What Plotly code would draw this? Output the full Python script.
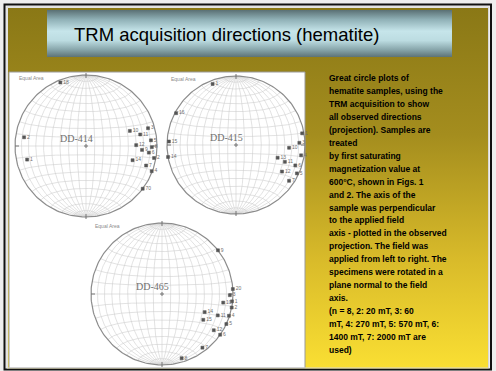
import numpy as np
import plotly.graph_objects as go

W, H = 496, 371

TITLE = "TRM acquisition directions (hematite)"

# Site names shown in each stereonet
SITES = ["DD-414", "DD-415", "DD-465"]

# TRM acquisition directions (declination, inclination in degrees, lower hemisphere)
dec_414 = [338, 71, 74, 85, 89, 94, 96, 100, 107, 108, 111, 127, 278, 257, 78, 91]
inc_414 = [4, 35, 10, 9, 30, 22, 12, 3, 32, 12, 1, 0, 13, 16, 23, 8]
lab_414 = ["18", "10", "3", "5", "12", "9", "6", "2", "14", "7", "4", "70", "2", "1", "11", "8"]

dec_415 = [339, 298, 273, 80, 88, 93, 99, 107, 109, 109, 120, 115, 124, 260]
inc_415 = [6, 2, 3, 3, 9, 24, 5, 37, 26, 10, 24, 3, 8, 0]
lab_415 = ["1", "16", "15", "1", "3", "10", "4", "13", "11", "6", "12", "5", "7", "14"]

dec_465 = [52, 86, 91, 96, 98, 101, 113, 111, 108, 122, 115, 125, 125, 143, 163]
inc_465 = [0, 0, 5, 1, 14, 0, 35, 17, 1, 32, 0, 12, 0, 6, 6]
lab_465 = ["9", "20", "3", "1", "10", "2", "14", "11", "4", "15", "5", "12", "6", "7", "8"]

# Explanatory text beside the nets
BODY = [
    "Great circle plots of",
    "hematite samples, using the",
    "TRM acquisition to show",
    "all observed directions",
    "(projection). Samples are",
    "treated",
    "by first saturating",
    "magnetization value at",
    "600°C, shown in Figs. 1",
    "and 2. The axis of the",
    "sample was perpendicular",
    "to the applied field",
    "axis - plotted in the observed",
    "projection. The field was",
    "applied from left to right. The",
    "specimens were rotated in a",
    "plane normal to the field",
    "axis.",
    "(n = 8, 2: 20 mT, 3: 60",
    "mT, 4: 270 mT, 5: 570 mT, 6:",
    "1400 mT, 7: 2000 mT are",
    "used)",
]

# Placement of each net on the slide (pixel units): centre x, centre y, radius
NETS = [
    (86, 146, 71, SITES[0], dec_414, inc_414, lab_414),
    (236, 145, 69, SITES[1], dec_415, inc_415, lab_415),
    (162, 294, 71, SITES[2], dec_465, inc_465, lab_465),
]


def rect(x0, y0, x1, y1):
    return [x0, x1, x1, x0, x0], [y0, y0, y1, y1, y0]


def schmidt_grid(cx, cy, R, step=10):
    """Equal-area (Schmidt) net: meridians and parallels every `step` degrees."""
    xs, ys = [], []
    t = np.radians(np.linspace(-90, 90, 121))
    for a in range(-90 + step, 90, step):
        a = np.radians(a)
        # meridian (constant longitude)
        k = 1 / np.sqrt(1 + np.cos(t) * np.cos(a))
        x = R * np.cos(t) * np.sin(a) * k
        y = R * np.sin(t) * k
        xs += list(cx + x) + [None]
        ys += list(cy - y) + [None]
        # parallel (constant latitude)
        k = 1 / np.sqrt(1 + np.cos(a) * np.cos(t))
        x = R * np.cos(a) * np.sin(t) * k
        y = R * np.sin(a) * k
        xs += list(cx + x) + [None]
        ys += list(cy - y) + [None]
    return xs, ys


def project(dec, inc, cx, cy, R):
    """Lambert equal-area projection of declination / inclination."""
    d = np.radians(np.asarray(dec, float))
    i = np.radians(np.abs(np.asarray(inc, float)))
    r = R * np.sqrt(1 - np.sin(i))
    return cx + r * np.sin(d), cy - r * np.cos(d)


fig = go.Figure()

# slide background: olive to yellow gradient
bx, by = rect(8, 8, 488, 369)
fig.add_trace(go.Scatter(
    x=bx, y=by, mode="lines", fill="toself", line=dict(width=0),
    fillgradient=dict(type="vertical", start=8, stop=369,
                      colorscale=[[0, "#8a7816"], [0.35, "#a48d1e"],
                                  [0.7, "#d9bb2a"], [1, "#fadf33"]]),
    hoverinfo="skip", showlegend=False))

# title banner
tx, ty = rect(47, 10, 452, 57)
fig.add_trace(go.Scatter(
    x=tx, y=ty, mode="lines", fill="toself", line=dict(width=0),
    fillgradient=dict(type="vertical", start=10, stop=57,
                      colorscale=[[0, "#5a7074"], [0.2, "#8fb0b6"],
                                  [0.45, "#c6e5ea"], [0.65, "#bcdce1"],
                                  [0.85, "#86a4a9"], [1, "#5d7377"]]),
    hoverinfo="skip", showlegend=False))

# white figure panel
px_, py_ = rect(9, 72, 305, 368)
fig.add_trace(go.Scatter(
    x=px_, y=py_, mode="lines", fill="toself", fillcolor="white",
    line=dict(width=1, color="#9a9a9a"), hoverinfo="skip", showlegend=False))

annotations = []
for cx, cy, R, name, dec, inc, lab in NETS:
    gx, gy = schmidt_grid(cx, cy, R)
    fig.add_trace(go.Scatter(x=gx, y=gy, mode="lines",
                             line=dict(color="#cfcfcf", width=0.6),
                             hoverinfo="skip", showlegend=False))
    th = np.linspace(0, 2 * np.pi, 241)
    fig.add_trace(go.Scatter(x=cx + R * np.cos(th), y=cy + R * np.sin(th),
                             mode="lines", line=dict(color="#8c8c8c", width=1.2),
                             hoverinfo="skip", showlegend=False))
    # N / S / E / W ticks and centre cross
    tkx = [cx, cx, None, cx, cx, None, cx - R, cx - R + 4, None, cx + R - 4, cx + R,
           None, cx - 2, cx + 2, None, cx, cx]
    tky = [cy - R - 2, cy - R + 3, None, cy + R - 3, cy + R + 2, None, cy, cy, None,
           cy, cy, None, cy, cy, None, cy - 2, cy + 2]
    fig.add_trace(go.Scatter(x=tkx, y=tky, mode="lines",
                             line=dict(color="#777777", width=1),
                             hoverinfo="skip", showlegend=False))
    x, y = project(dec, inc, cx, cy, R)
    fig.add_trace(go.Scatter(
        x=x, y=y, mode="markers+text", text=lab, textposition="middle right",
        textfont=dict(size=5, color="#707070", family="Liberation Sans"),
        marker=dict(symbol="square", size=3, color="#555555",
                    line=dict(width=0.5, color="#555555")),
        hoverinfo="skip", showlegend=False))
    annotations.append(dict(x=cx - 10, y=cy - 8, text=name, showarrow=False,
                            font=dict(size=10, color="#707070", family="Liberation Serif")))
    annotations.append(dict(x=cx - R + 2, y=cy - R + 3, text="Equal Area",
                            showarrow=False, xanchor="left",
                            font=dict(size=5, color="#8a8a8a", family="Liberation Sans")))

annotations.append(dict(x=226, y=34, text=TITLE, showarrow=False,
                        font=dict(size=18.5, color="black", family="Liberation Sans")))

for k, line in enumerate(BODY):
    annotations.append(dict(x=327, y=78 + k * 12.95, text="<b>%s</b>" % line,
                            showarrow=False, xanchor="left", yanchor="middle",
                            font=dict(size=8.5, color="black", family="Liberation Sans")))

for a in annotations:
    a.setdefault("xref", "x")
    a.setdefault("yref", "y")

fig.update_layout(
    width=W, height=H, margin=dict(l=0, r=0, t=0, b=0),
    paper_bgcolor="#eeeeee", plot_bgcolor="#eeeeee",
    xaxis=dict(range=[0, W], visible=False, fixedrange=True),
    yaxis=dict(range=[H, 0], visible=False, fixedrange=True),
    annotations=annotations,
    shapes=[
        dict(type="rect", xref="x", yref="y", x0=4.5, y0=4.5, x1=491, y1=369.5,
             line=dict(color="#111111", width=2), layer="above"),
        dict(type="rect", xref="x", yref="y", x0=7, y0=7, x1=488.5, y1=368,
             line=dict(color="#d8d8d8", width=1), layer="above"),
    ],
    showlegend=False,
)

fig.write_html("out.html")
